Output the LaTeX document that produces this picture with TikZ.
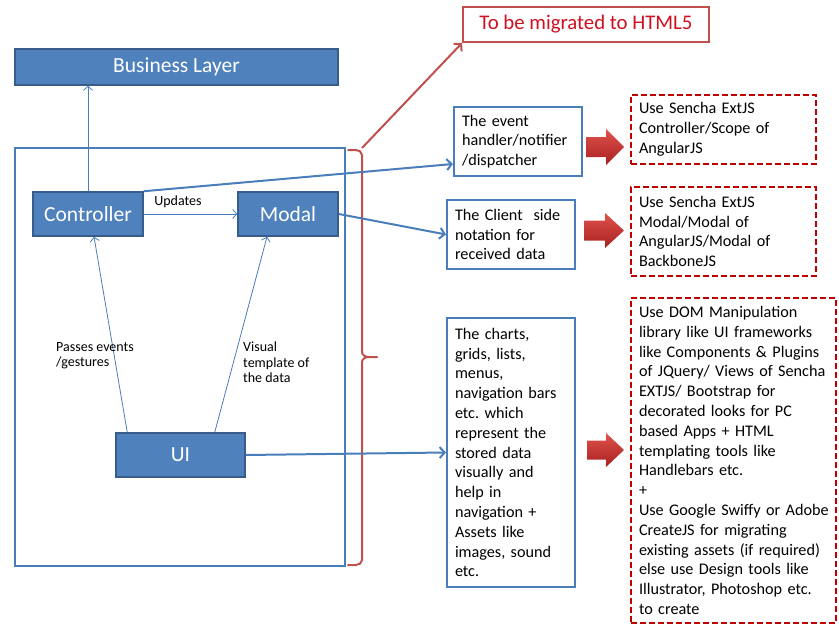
\documentclass[tikz,border=0pt]{standalone}
\usepackage{fontspec}
\setmainfont{Carlito}
\usetikzlibrary{arrows.meta}
\frenchspacing
\definecolor{bfill}{HTML}{4F81BD}
\definecolor{bdark}{HTML}{385D8A}
\definecolor{bline}{HTML}{4A7EBB}
\definecolor{redl}{HTML}{C0504D}
\definecolor{redd}{HTML}{C00000}
\definecolor{redtxt}{HTML}{D01020}
\definecolor{blocktop}{HTML}{E0524C}
\definecolor{blockbot}{HTML}{A82020}
\tikzset{
  layerbox/.style={draw=bdark, fill=bfill, line width=1.5pt, text=white,
    font=\fontsize{21.5}{24}\selectfont, inner sep=0pt},
  framebox/.style={draw=bline, line width=2pt, inner sep=0pt},
  infobox/.style={draw=bline, line width=2pt, fill=white, align=left,
    inner xsep=8pt, inner ysep=0pt, font=\fontsize{16.2}{19.8}\selectfont},
  planbox/.style={draw=redd, line width=2pt, dash pattern=on 6pt off 3pt,
    fill=white, align=left, inner xsep=8pt, inner ysep=0pt,
    font=\fontsize{16.2}{19.8}\selectfont},
  htmlbox/.style={draw=redl, line width=2pt, fill=white, text=redtxt,
    font=\fontsize{20.8}{24}\selectfont, inner sep=0pt},
  lbl/.style={align=left, inner sep=0pt, font=\fontsize{14}{15.5}\selectfont},
  thinarr/.style={draw=bline, line width=0.8pt, -{Straight Barb[length=4pt,width=9pt]}},
  bluearr/.style={draw=bline, line width=2pt, -{Straight Barb[length=5pt,width=11pt]}},
  redarr/.style={draw=redl, line width=2pt, -{Straight Barb[length=5pt,width=11pt]}},
  bracestyle/.style={draw=redl, line width=2pt, line cap=round, line join=round},
  blockarrow/.style={top color=blocktop, bottom color=blockbot},
}
\begin{document}
\begin{tikzpicture}[x=1pt,y=-1pt]
\useasboundingbox (0,0) rectangle (839,626);

% left part
\node[layerbox, minimum width=323, minimum height=36] (bl) at (176.5,67) {Business Layer};
\node[framebox, minimum width=330, minimum height=418] (frame) at (180,357) {};
\node[layerbox, minimum width=110, minimum height=44] (ctrl) at (88,214) {Controller};
\node[layerbox, minimum width=100, minimum height=44] (modal) at (288,214) {Modal};
\node[layerbox, minimum width=129, minimum height=44] (ui) at (180.5,455) {UI};

\draw[thinarr] (ctrl.north) -- (ctrl.north |- bl.south);
\draw[thinarr] (ctrl.east) -- (modal.west);
\draw[thinarr] ([xshift=12pt]ui.north west) -- ([xshift=6pt]ctrl.south);
\draw[thinarr] ([xshift=-31pt]ui.north east) -- ([xshift=-21pt]modal.south);

\node[lbl] (lupd) at (178,202) {Updates};
\node[lbl, anchor=north west] (lpass) at (56,342) {Passes events\\/gestures};
\node[lbl, anchor=north west] (lvis) at (243,342) {Visual\\template of\\the data};

% brace
\draw[bracestyle] (348,150) -- (356,150) to[out=0,in=90] (362,155) -- (362,352)
  to[out=-90,in=180] (369,357) -- (377,357);
\draw[bracestyle] (369,357) to[out=180,in=90] (362,362) -- (362,560)
  to[out=-90,in=0] (356,565) -- (348,565);
\coordinate (bt) at (362,148);

% top red box
\node[htmlbox, minimum width=246, minimum height=35] (html) at (586,24.5) {To be migrated to HTML5};
\draw[redarr] (bt) -- (html.south west);

% blue info boxes
\node[infobox, minimum width=128, minimum height=69, text width=112] (ev) at (518,141.5)
  {The event\\handler/notifier\\/dispatcher};
\node[infobox, minimum width=128, minimum height=69, text width=112] (cl) at (511,234.5)
  {The Client~ side\\notation for\\received data};
\node[infobox, minimum width=128, minimum height=269, text width=112] (ch) at (511,452.5)
  {The charts,\\grids, lists,\\menus,\\navigation bars\\etc. which\\represent the\\stored data\\visually and\\help in\\navigation +\\Assets like\\images, sound\\etc.};

\draw[bluearr] (ctrl.north east) -- ([yshift=13pt]ev.south west);
\draw[bluearr] (modal.east) -- (cl.west);
\draw[bluearr] (ui.east) -- (ch.west);

% block arrows
\shade[blockarrow] (586,137) -- (606,137) -- (606,129) -- (624,147) -- (606,165) -- (606,157) -- (586,157) -- cycle;
\shade[blockarrow] (584,220.5) -- (605,220.5) -- (605,213) -- (624,230.5) -- (605,248) -- (605,240.5) -- (584,240.5) -- cycle;
\shade[blockarrow] (587,440.5) -- (606,440.5) -- (606,433) -- (624,450) -- (606,467) -- (606,459.5) -- (587,459.5) -- cycle;

% dashed plan boxes
\node[planbox, minimum width=185, minimum height=69, text width=169] (p1) at (723.5,129.5)
  {Use Sencha ExtJS\\Controller/Scope of\\AngularJS};
\node[planbox, minimum width=185, minimum height=89, text width=169] (p2) at (723.5,231.5)
  {Use Sencha ExtJS\\Modal/Modal of\\AngularJS/Modal of\\BackboneJS};
\node[planbox, minimum width=205, minimum height=325, text width=189] (p3) at (733.5,460.5)
  {Use DOM Manipulation\\\mbox{library like UI frameworks}\\\mbox{like Components \& Plugins}\\\mbox{of JQuery/ Views of Sencha}\\EXTJS/ Bootstrap for\\decorated looks for PC\\based Apps + HTML\\templating tools like\\Handlebars etc.\\+\\\mbox{Use Google Swiffy or Adobe}\\CreateJS for migrating\\\mbox{existing assets (if required)}\\else use Design tools like\\\mbox{Illustrator, Photoshop etc.}\\to create};
\end{tikzpicture}
\end{document}
